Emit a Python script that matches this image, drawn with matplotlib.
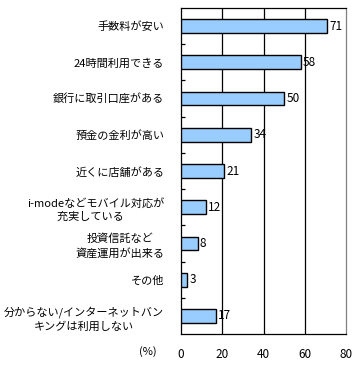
import matplotlib
matplotlib.use("Agg")
import matplotlib.pyplot as plt
import numpy as np

plt.rcParams['font.family'] = ['Noto Sans CJK JP', 'DejaVu Sans']

categories = ["手数料が安い", "24時間利用できる", "銀行に取引口座がある", "預金の金利が高い",
              "近くに店舗がある", "i-modeなどモバイル対応が\n充実している    ",
              "投資信託など\n資産運用が出来る", "その他",
              "分からない/インターネットバン\nキングは利用しない"]
values = [71, 58, 50, 34, 21, 12, 8, 3, 17]
xticks = [0, 20, 40, 60, 80]

fig = plt.figure(figsize=(3.62, 3.67), dpi=100)
W, H = 362, 367
ax = fig.add_axes([181/W, 1-334/H, (346-181)/W, (334-8)/H])

n = len(categories)
y = np.arange(n)
ax.barh(y, values, height=0.38, color='#99ccff', edgecolor='black', linewidth=1, zorder=3)
ax.set_ylim(n-0.5, -0.5)
ax.set_xlim(0, 80)
for v, yy in zip(values, y):
    ax.text(v + 1, yy, str(v), va='center', ha='left', fontsize=8.5, zorder=4)

for g in [20, 40, 60]:
    ax.axvline(g, color='black', linewidth=0.9, zorder=1)

ax.set_xticks(xticks)
ax.set_xticklabels([str(t) for t in xticks], fontsize=8.5)
ax.tick_params(axis='x', length=0, pad=10)
ax.set_yticks(y)
ax.set_yticklabels(categories, fontsize=8.0, multialignment='center', linespacing=1.4)
ax.tick_params(axis='y', length=0, pad=12)
ax.set_yticks(np.arange(n-1) + 0.5, minor=True)
ax.tick_params(axis='y', which='minor', direction='in', length=3, width=0.9, color='black')

for s in ['left', 'bottom', 'top']:
    ax.spines[s].set_color('black')
    ax.spines[s].set_linewidth(0.9)
ax.spines['right'].set_color('#808080')
ax.spines['right'].set_linewidth(0.9)

fig.text(148/W, 1-352/H, "(%)", fontsize=8, ha='center', va='center')

fig.savefig("out.png", dpi=100)
